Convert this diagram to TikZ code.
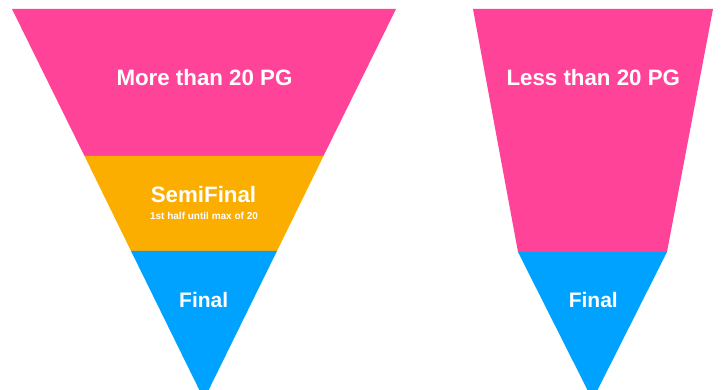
\documentclass[tikz,border=0pt]{standalone}
\usepackage{fontspec}
\setmainfont{Liberation Sans}
\usepackage{tikz}
\usetikzlibrary{positioning}
\definecolor{pinkband}{HTML}{FF4399}
\definecolor{orangeband}{HTML}{FBAD00}
\definecolor{blueband}{HTML}{00A2FF}
\tikzset{
  band/.style={draw=none},
  bigtitle/.style={text=white, anchor=base, inner sep=0pt, font=\fontsize{22.3}{26}\selectfont\bfseries},
  smalltitle/.style={text=white, anchor=base, inner sep=0pt, font=\fontsize{10}{12}\selectfont\bfseries}
}

\begin{document}
\begin{tikzpicture}[x=1pt, y=-1pt]
        % Fix the page to the reference size and cut the apexes off at the bottom
        \useasboundingbox (0,0) rectangle (721,390);
        \clip (0,0) rectangle (721,390);

        % Left funnel: three bands
        \fill[band, pinkband] (12,9) -- (396,9) -- (323.5,156) -- (84.5,156) -- cycle;
        \fill[band, orangeband] (84.5,156) -- (323.5,156) -- (277,251) -- (131,251) -- cycle;
        \fill[band, blueband] (131,251) -- (277,251) -- (204,399.5) -- cycle;

        % Right funnel: two bands
        \fill[band, pinkband] (473,9) -- (713,9) -- (667,252) -- (518,252) -- cycle;
        \fill[band, blueband] (518,252) -- (667,252) -- (592.5,400) -- cycle;

        % Band labels
        \node[bigtitle] (more) at (204.5,86) {More than 20 PG};
        \node[bigtitle] (semi) at (203.5,202.3) {SemiFinal};
        \node[smalltitle] (semisub) at (204,219.3) {1st half until max of 20};
        \node[bigtitle, font=\fontsize{21}{25}\selectfont\bfseries] (finalleft) at (203.7,307.3) {Final};

        \node[bigtitle] (less) at (593.3,86) {Less than 20 PG};
        \node[bigtitle, font=\fontsize{21}{25}\selectfont\bfseries] (finalright) at (593.3,307.3) {Final};
\end{tikzpicture}
\end{document}
